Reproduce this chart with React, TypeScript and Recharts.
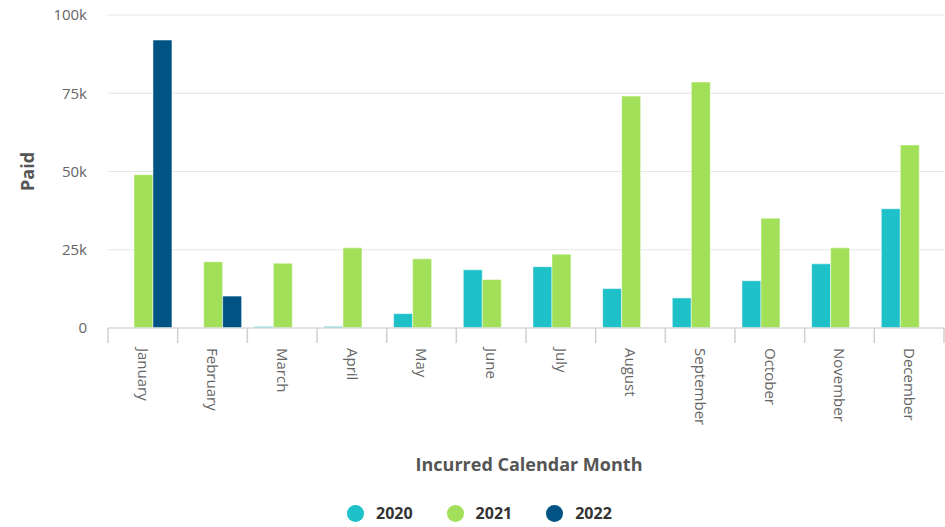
// @ts-nocheck
import { BarChart, Bar, XAxis, YAxis, CartesianGrid } from 'recharts';

document.body.style.margin = '0';

const months = [
  'January', 'February', 'March', 'April', 'May', 'June',
  'July', 'August', 'September', 'October', 'November', 'December',
];
const paid2020 = [null, null, 500, 500, 4600, 18600, 19600, 12600, 9600, 15100, 20500, 38100];
const paid2021 = [49000, 21200, 20700, 25600, 22100, 15500, 23600, 74100, 78600, 35100, 25600, 58500];
const paid2022 = [92000, 10200, null, null, null, null, null, null, null, null, null, null];
const yTicks = [0, 25000, 50000, 75000, 100000];

const series = [
  { key: 'y2020', name: '2020', color: '#1fc1c9' },
  { key: 'y2021', name: '2021', color: '#a3e05a' },
  { key: 'y2022', name: '2022', color: '#005483' },
];

const data = months.map((m, i) => ({
  month: m,
  y2020: paid2020[i],
  y2021: paid2021[i],
  y2022: paid2022[i],
}));

const font = '"Open Sans", sans-serif';
const fmt = (v: number) => (v === 0 ? '0' : `${v / 1000}k`);
const tickStroke = '#d0d0d0';

// month label rotated 90deg, plus tick marks at the category boundaries
const MonthTick = ({ x, y, payload, index }) => {
  const half = payload.offset || 0;
  const top = y - 8;
  return (
    <g>
      <line x1={x - half} x2={x - half} y1={top} y2={top + 15} stroke={tickStroke} strokeWidth={1.5} />
      {index === months.length - 1 && (
        <line x1={x + half} x2={x + half} y1={top} y2={top + 15} stroke={tickStroke} strokeWidth={1.5} />
      )}
      <g transform={`translate(${x},${y + 12}) rotate(90)`}>
        <text x={0} y={0} dy="0.35em" textAnchor="start" fill="#666" fontSize={15} fontFamily={font}>
          {payload.value}
        </text>
      </g>
    </g>
  );
};

export default function App() {
  return (
    <div style={{ position: 'relative', width: 945, height: 527, background: '#fff' }}>
      <BarChart
        width={945}
        height={490}
        data={data}
        margin={{ top: 15, right: 1, left: 0, bottom: 0 }}
        barCategoryGap="10%"
        barGap={0}
      >
        <CartesianGrid vertical={false} stroke="#e6e6e6" />
        <XAxis
          dataKey="month"
          interval={0}
          height={162}
          tickLine={false}
          tickSize={0}
          tickMargin={8}
          axisLine={{ stroke: '#dcdcdc', strokeWidth: 1.5 }}
          tick={<MonthTick />}
          label={{
            value: 'Incurred Calendar Month',
            position: 'insideBottom',
            offset: 19,
            dx: 3,
            style: { fontFamily: font, fontSize: 18, fontWeight: 700, fill: '#555' },
          }}
        />
        <YAxis
          width={108}
          domain={[0, 100000]}
          ticks={yTicks}
          tickFormatter={fmt}
          axisLine={false}
          tickLine={false}
          tickSize={0}
          tickMargin={21}
          tick={{ fontSize: 15, fill: '#666', fontFamily: font }}
          label={{
            value: 'Paid',
            angle: -90,
            position: 'insideLeft',
            offset: 28,
            style: { textAnchor: 'middle', fontFamily: font, fontSize: 18, fontWeight: 700, fill: '#555' },
          }}
        />
        {series.map((s) => (
          <Bar
            key={s.key}
            dataKey={s.key}
            name={s.name}
            fill={s.color}
            stroke="#ffffff"
            strokeWidth={0.5}
            isAnimationActive={false}
          />
        ))}
      </BarChart>
      <div
        style={{
          position: 'absolute',
          top: 502,
          left: 347,
          display: 'flex',
          alignItems: 'center',
          fontFamily: font,
          fontSize: 16,
          fontWeight: 700,
          color: '#333',
        }}
      >
        {series.map((s) => (
          <div key={s.key} style={{ display: 'flex', alignItems: 'center', marginRight: 34 }}>
            <span
              style={{
                width: 17,
                height: 17,
                borderRadius: '50%',
                background: s.color,
                display: 'inline-block',
                marginRight: 12,
              }}
            />
            <span>{s.name}</span>
          </div>
        ))}
      </div>
    </div>
  );
}
